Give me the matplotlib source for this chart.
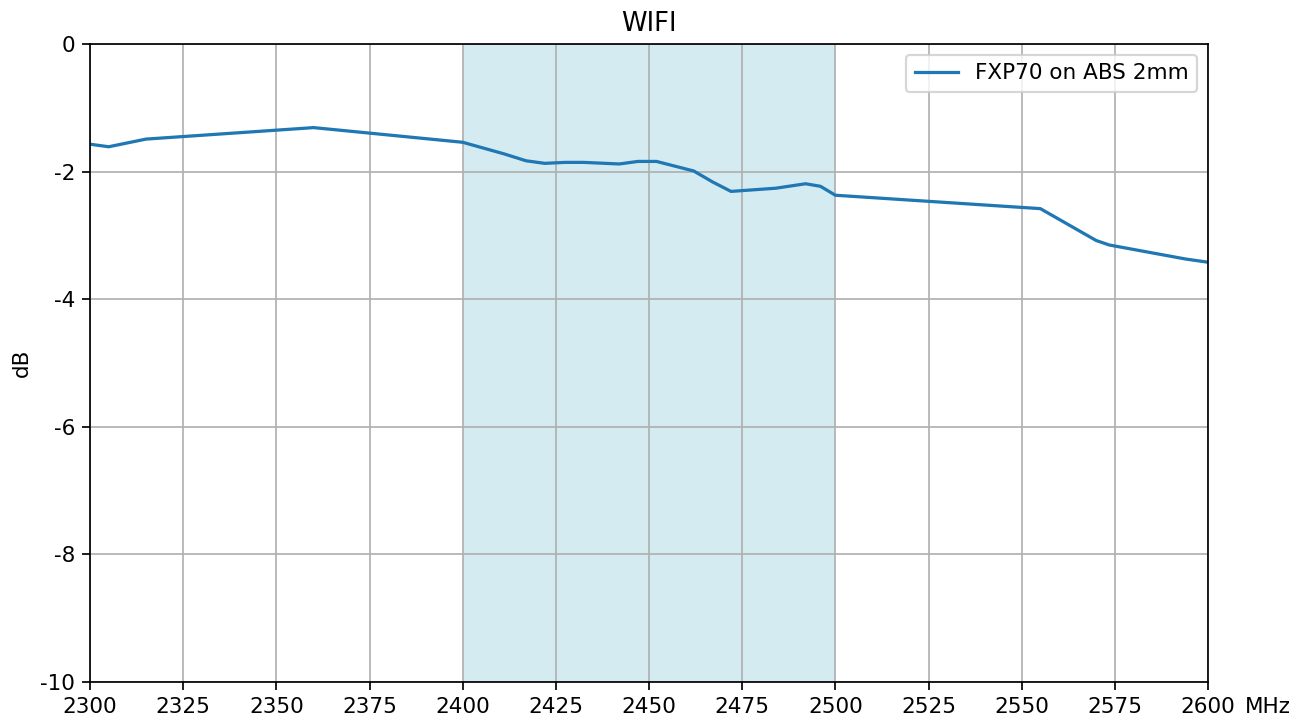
import matplotlib
matplotlib.use("Agg")
import matplotlib.pyplot as plt

plt.rcParams["axes.unicode_minus"] = False

# =============================================

freq = [2300, 2305, 2315, 2360, 2400, 2411, 2417, 2422, 2427.5, 2432.5,
        2442, 2447, 2452, 2462, 2467, 2472, 2484, 2492, 2496, 2500,
        2555, 2570, 2573.5, 2594, 2600]
db = [-1.57, -1.61, -1.49, -1.31, -1.54, -1.72, -1.83, -1.87, -1.855, -1.855,
      -1.88, -1.84, -1.84, -1.99, -2.16, -2.31, -2.26, -2.19, -2.23, -2.37,
      -2.58, -3.08, -3.15, -3.37, -3.42]
band = (2400, 2500)
xticks = list(range(2300, 2601, 25))
yticks = [0, -2, -4, -6, -8, -10]

# =============================================

dpi = 155
fig = plt.figure(figsize=(1305 / dpi, 722 / dpi), dpi=dpi)
ax = fig.add_axes([0.069, 0.0554, 0.8567, 0.8836])

ax.axvspan(band[0], band[1], color="lightblue", alpha=0.5, lw=0)
ax.plot(freq, db, color="#1f77b4", lw=1.5, label="FXP70 on ABS 2mm")

ax.set_xlim(2300, 2600)
ax.set_ylim(-10, 0)
ax.set_xticks(xticks)
ax.set_yticks(yticks)
ax.grid(True)
ax.set_title("WIFI")
ax.set_ylabel("dB")
ax.annotate("MHz", xy=(1, 0), xycoords="axes fraction",
            xytext=(17, -7), textcoords="offset points",
            ha="left", va="top")
ax.legend(loc="upper right")

fig.savefig("out.png", dpi=dpi)
